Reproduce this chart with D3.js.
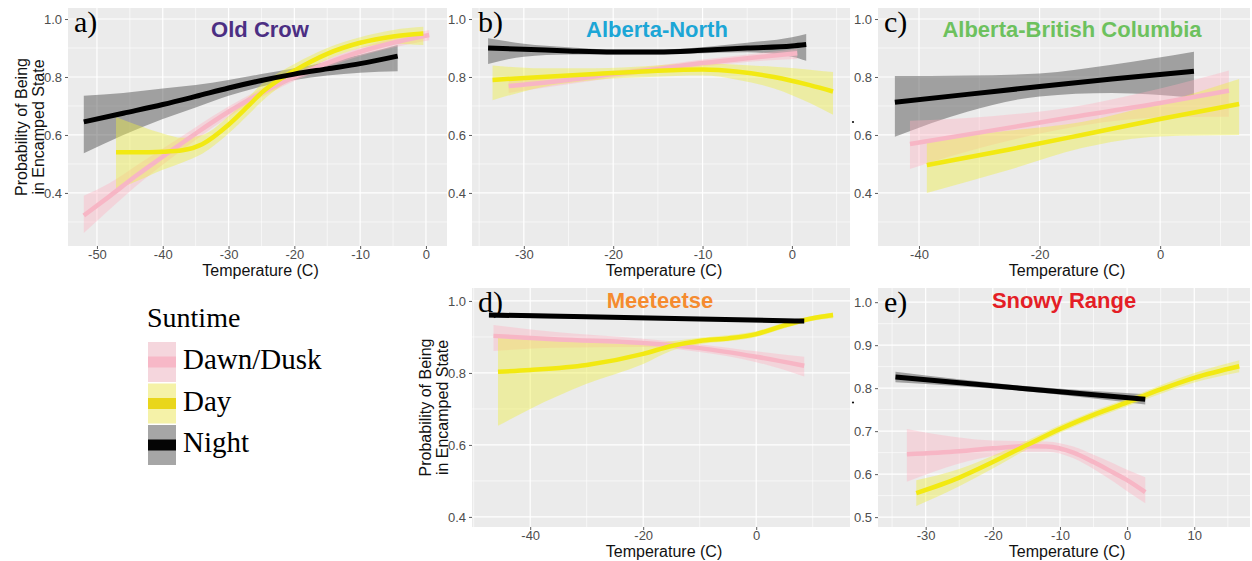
<!DOCTYPE html>
<html><head><meta charset="utf-8">
<script src="https://cdn.jsdelivr.net/npm/d3@7"></script>
<style>body{margin:0;background:#fff;} svg{display:block;}</style>
</head><body><svg id="chart" width="1252" height="561"></svg>
<script>
// ---------------- DATA: [temperature, fit, lower, upper] ----------------
const suntimes = ["Dawn/Dusk", "Day", "Night"];

// a) Old Crow
const aNight = [[-52,0.645,0.537,0.735],[-46,0.675,0.60,0.745],[-40,0.705,0.655,0.76],[-35,0.733,0.695,0.772],[-30,0.762,0.735,0.79],[-25,0.788,0.767,0.81],[-20,0.81,0.79,0.83],[-15,0.828,0.805,0.852],[-10,0.846,0.815,0.877],[-4.3,0.872,0.82,0.91]];
const aDawn = [[-52,0.322,0.262,0.39],[-48,0.39,0.345,0.435],[-44,0.46,0.425,0.495],[-40,0.525,0.497,0.553],[-35,0.605,0.583,0.627],[-30,0.68,0.662,0.698],[-25,0.745,0.73,0.76],[-20,0.80,0.786,0.814],[-15,0.848,0.834,0.862],[-10,0.887,0.872,0.902],[-5,0.918,0.902,0.934],[0.5,0.945,0.927,0.962]];
const aDay = [[-47.1,0.54,0.41,0.662],[-44,0.54,0.44,0.635],[-40,0.542,0.48,0.605],[-37,0.547,0.505,0.59],[-34,0.568,0.535,0.60],[-30,0.635,0.605,0.665],[-27,0.70,0.67,0.73],[-25,0.745,0.715,0.775],[-22,0.795,0.77,0.82],[-20,0.822,0.80,0.845],[-15,0.88,0.86,0.90],[-10,0.918,0.9,0.937],[-5,0.94,0.915,0.962],[-0.4,0.95,0.91,0.973]];

// b) Alberta-North
const bNight = [[-34,0.90,0.845,0.934],[-30,0.896,0.87,0.915],[-25,0.89,0.878,0.903],[-20,0.886,0.878,0.895],[-15,0.886,0.878,0.895],[-10,0.892,0.882,0.903],[-5,0.9,0.885,0.918],[0,0.907,0.87,0.937],[1.6,0.912,0.856,0.948]];
const bDawn = [[-31.7,0.769,0.745,0.79],[-25,0.79,0.775,0.805],[-20,0.81,0.797,0.822],[-15,0.828,0.817,0.84],[-10,0.848,0.836,0.86],[-5,0.865,0.852,0.878],[0.6,0.882,0.862,0.897]];
const bDay = [[-33.5,0.79,0.72,0.84],[-28,0.80,0.765,0.83],[-22,0.81,0.79,0.83],[-16,0.82,0.80,0.838],[-10,0.826,0.805,0.848],[-6,0.818,0.79,0.842],[-2,0.80,0.76,0.835],[2,0.772,0.71,0.825],[4.6,0.75,0.67,0.817]];

// c) Alberta-British Columbia
const cNight = [[-44,0.713,0.594,0.803],[-32,0.74,0.68,0.805],[-20,0.767,0.733,0.812],[-8,0.793,0.745,0.842],[5.6,0.82,0.728,0.887]];
const cDawn = [[-41.5,0.569,0.483,0.649],[-28,0.615,0.565,0.665],[-15,0.66,0.625,0.695],[0,0.71,0.66,0.76],[11.4,0.753,0.663,0.822]];
const cDay = [[-38.7,0.496,0.40,0.583],[-25,0.55,0.48,0.615],[-13,0.60,0.555,0.645],[0,0.655,0.595,0.71],[13.1,0.707,0.60,0.793]];

// d) Meeteetse
const dNight = [[-47.3,0.961,0.954,0.968],[-30,0.956,0.951,0.961],[-10,0.95,0.946,0.954],[8.5,0.944,0.938,0.95]];
const dDawn = [[-46.5,0.903,0.861,0.933],[-35,0.893,0.87,0.913],[-20,0.883,0.872,0.895],[-10,0.869,0.858,0.88],[0,0.845,0.83,0.86],[8.5,0.82,0.79,0.845]];
const dDay = [[-45.7,0.803,0.653,0.897],[-40,0.808,0.70,0.893],[-30,0.822,0.77,0.885],[-20,0.853,0.825,0.88],[-15,0.875,0.862,0.888],[-10,0.889,0.88,0.898],[-5,0.896,0.888,0.905],[0,0.908,0.9,0.916],[5,0.932,0.924,0.94],[10,0.952,0.945,0.959],[13.6,0.961,0.952,0.968]];

// e) Snowy Range
const eNight = [[-34.5,0.826,0.814,0.838],[-16,0.80,0.794,0.806],[2.7,0.774,0.762,0.786]];
const eDawn = [[-32.8,0.646,0.582,0.705],[-25,0.653,0.625,0.685],[-20,0.66,0.642,0.678],[-15,0.665,0.652,0.677],[-12,0.664,0.652,0.676],[-8,0.65,0.637,0.664],[-5,0.628,0.612,0.645],[-2,0.603,0.582,0.625],[0,0.586,0.56,0.61],[2.7,0.558,0.532,0.593]];
const eDay = [[-31.4,0.556,0.526,0.586],[-25,0.592,0.572,0.612],[-20,0.628,0.613,0.643],[-15,0.667,0.657,0.677],[-10,0.705,0.696,0.714],[-5,0.738,0.729,0.747],[0,0.767,0.758,0.776],[5,0.797,0.787,0.807],[10,0.824,0.813,0.835],[16.7,0.851,0.837,0.865]];

// tick labels
const aXTicks = [-50,-40,-30,-20,-10,0];
const bXTicks = [-30,-20,-10,0];
const cXTicks = [-40,-20,0];
const dXTicks = [-40,-20,0];
const eXTicks = [-30,-20,-10,0,10];
const topYTicks = [0.4,0.6,0.8,1.0];
const dYTicks = [0.4,0.6,0.8,1.0];
const eYTicks = [0.5,0.6,0.7,0.8,0.9,1.0];

const panelLetters = ["a)","b)","c)","d)","e)"];
const panelTitles = ["Old Crow","Alberta-North","Alberta-British Columbia","Meeteetse","Snowy Range"];

// ---------------- STYLE / LAYOUT ----------------
const titleColors = ["#4b2e83","#1ca6d6","#6dc15e","#f58b2f","#e41e26"];
const lineColor = {"Dawn/Dusk":"#f7b6c5","Day":"#f2e912","Night":"#000000"};
const ribbonColor = {"Dawn/Dusk":"#ffb0c0","Day":"#eeee40","Night":"#555555"};
const ribbonOpacity = {"Dawn/Dusk":0.38,"Day":0.42,"Night":0.5};

const panels = [
  {series:{"Night":aNight,"Dawn/Dusk":aDawn,"Day":aDay}, xTicks:aXTicks, yTicks:topYTicks,
   box:{l:68,r:447,t:8,b:246}, xDomain:[-54.4,3.2], yDomain:[0.217,1.038], xMinor:[-45,-35,-25,-15,-5], yMinor:[0.3,0.5,0.7,0.9], yTitle:true, titleDy:29},
  {series:{"Night":bNight,"Dawn/Dusk":bDawn,"Day":bDay}, xTicks:bXTicks, yTicks:topYTicks,
   box:{l:472,r:850,t:8,b:246}, xDomain:[-35.8,6.5], yDomain:[0.217,1.038], xMinor:[-35,-25,-15,-5,5], yMinor:[0.3,0.5,0.7,0.9], titleDy:29},
  {series:{"Night":cNight,"Dawn/Dusk":cDawn,"Day":cDay}, xTicks:cXTicks, yTicks:topYTicks,
   box:{l:878,r:1250,t:8,b:246}, xDomain:[-46.8,14.9], yDomain:[0.217,1.038], xMinor:[-30,-10,10], yMinor:[0.3,0.5,0.7,0.9], dot:true, titleDy:29},
  {series:{"Night":dNight,"Dawn/Dusk":dDawn,"Day":dDay}, xTicks:dXTicks, yTicks:dYTicks,
   box:{l:472,r:850,t:288,b:527}, xDomain:[-50.3,16.6], yDomain:[0.372,1.036], xMinor:[-50,-30,-10,10], yMinor:[0.5,0.7,0.9], yTitle:true, titleDy:20},
  {series:{"Night":eNight,"Dawn/Dusk":eDawn,"Day":eDay}, xTicks:eXTicks, yTicks:eYTicks,
   box:{l:878,r:1250,t:288,b:527}, xDomain:[-37.1,18.3], yDomain:[0.477,1.033], xMinor:[-35,-25,-15,-5,5,15], yMinor:[0.55,0.65,0.75,0.85,0.95], dot:true, titleDy:20}
];

const svg = d3.select("#chart");
const sans = "'Liberation Sans', Arial, sans-serif";
const serif = "'Liberation Serif', 'Times New Roman', serif";

panels.forEach((p, i) => {
  const {l, r, t, b} = p.box;
  const x = d3.scaleLinear().domain(p.xDomain).range([l, r]);
  const y = d3.scaleLinear().domain(p.yDomain).range([b, t]);
  const g = svg.append("g");
  const clipId = "clip" + i;
  svg.append("clipPath").attr("id", clipId).append("rect").attr("x", l).attr("y", t).attr("width", r - l).attr("height", b - t);

  g.append("rect").attr("x", l).attr("y", t).attr("width", r - l).attr("height", b - t).attr("fill", "#ebebeb");
  const grid = g.append("g");
  p.yMinor.forEach(v => grid.append("line").attr("x1", l).attr("x2", r).attr("y1", y(v)).attr("y2", y(v)).attr("stroke", "#fff").attr("stroke-width", 0.6));
  p.xMinor.forEach(v => grid.append("line").attr("y1", t).attr("y2", b).attr("x1", x(v)).attr("x2", x(v)).attr("stroke", "#fff").attr("stroke-width", 0.6));
  p.yTicks.forEach(v => grid.append("line").attr("x1", l).attr("x2", r).attr("y1", y(v)).attr("y2", y(v)).attr("stroke", "#fff").attr("stroke-width", 1.2));
  p.xTicks.forEach(v => grid.append("line").attr("y1", t).attr("y2", b).attr("x1", x(v)).attr("x2", x(v)).attr("stroke", "#fff").attr("stroke-width", 1.2));

  const plot = g.append("g").attr("clip-path", `url(#${clipId})`);
  const area = d3.area().x(d => x(d[0])).y0(d => y(d[2])).y1(d => y(d[3])).curve(d3.curveMonotoneX);
  const line = d3.line().x(d => x(d[0])).y(d => y(d[1])).curve(d3.curveMonotoneX);
  ["Night", "Dawn/Dusk", "Day"].forEach(s => {
    plot.append("path").attr("d", area(p.series[s])).attr("fill", ribbonColor[s]).attr("fill-opacity", ribbonOpacity[s]);
  });
  ["Dawn/Dusk", "Day", "Night"].forEach(s => {
    plot.append("path").attr("d", line(p.series[s])).attr("fill", "none")
      .attr("stroke", lineColor[s]).attr("stroke-width", s === "Night" ? 5 : 4.5).attr("stroke-linecap", "butt");
  });

  // axes
  const xa = g.append("g").attr("transform", `translate(0,${b})`)
    .call(d3.axisBottom(x).tickValues(p.xTicks).tickSize(3).tickPadding(1).tickFormat(d3.format("d")));
  const ya = g.append("g").attr("transform", `translate(${l},0)`)
    .call(d3.axisLeft(y).tickValues(p.yTicks).tickSize(3).tickPadding(3).tickFormat(d3.format(".1f")));
  [xa, ya].forEach(a => {
    a.select(".domain").remove();
    a.selectAll(".tick line").attr("stroke", "#333").attr("stroke-width", 0.8);
    a.selectAll(".tick text").attr("fill", "#4d4d4d").style("font-family", sans).style("font-size", "13px");
  });
  xa.selectAll(".tick text").text(d => d3.format("d")(d).replace("−", "-"));

  // axis title
  svg.append("text").attr("x", (l + r) / 2 + 3).attr("y", b + 30).attr("text-anchor", "middle")
    .style("font-family", sans).style("font-size", "16px").attr("fill", "#111").text("Temperature (C)");
  if (p.yTitle) {
    const cy = (t + b) / 2;
    const tg = svg.append("g").attr("transform", `translate(${l - 41},${cy}) rotate(-90)`);
    tg.append("text").attr("x", 0).attr("y", 0).attr("text-anchor", "middle")
      .style("font-family", sans).style("font-size", "16px").attr("fill", "#111").text("Probability of Being");
    tg.append("text").attr("x", 0).attr("y", 17).attr("text-anchor", "middle")
      .style("font-family", sans).style("font-size", "16px").attr("fill", "#111").text("in Encamped State");
  }
  if (p.dot) {
    svg.append("circle").attr("cx", l - 25).attr("cy", (t + b) / 2 - 5).attr("r", 1.1).attr("fill", "#111");
  }

  // panel letter & title
  svg.append("text").attr("x", l + 6).attr("y", t + 24).style("font-family", serif).style("font-size", "30px")
    .attr("fill", "#000").text(panelLetters[i]);
  const titleX = [260, 657, 1072, 660, 1064][i];
  svg.append("text").attr("x", titleX).attr("y", t + p.titleDy).attr("text-anchor", "middle")
    .style("font-family", sans).style("font-weight", "bold").style("font-size", "22px")
    .attr("fill", titleColors[i]).text(panelTitles[i]);
});

// ---------------- LEGEND ----------------
const leg = svg.append("g");
leg.append("text").attr("x", 147).attr("y", 327).style("font-family", serif).style("font-size", "28px").attr("fill", "#000").text("Suntime");
const keyFill = {"Dawn/Dusk":"#f5d6dd","Day":"#f5f2a8","Night":"#a6a6a6"};
const keyBand = {"Dawn/Dusk":"#f7b8c7","Day":"#e9d61b","Night":"#050505"};
suntimes.forEach((s, k) => {
  const ky = 342 + k * 41.5;
  leg.append("rect").attr("x", 148).attr("y", ky).attr("width", 28).attr("height", 40).attr("fill", keyFill[s]);
  leg.append("rect").attr("x", 148).attr("y", ky + 14.5).attr("width", 28).attr("height", 11).attr("fill", keyBand[s]);
  leg.append("text").attr("x", 183).attr("y", ky + 27).style("font-family", serif).style("font-size", "29px")
    .attr("fill", "#000").text(s);
});
</script>
</body></html>
